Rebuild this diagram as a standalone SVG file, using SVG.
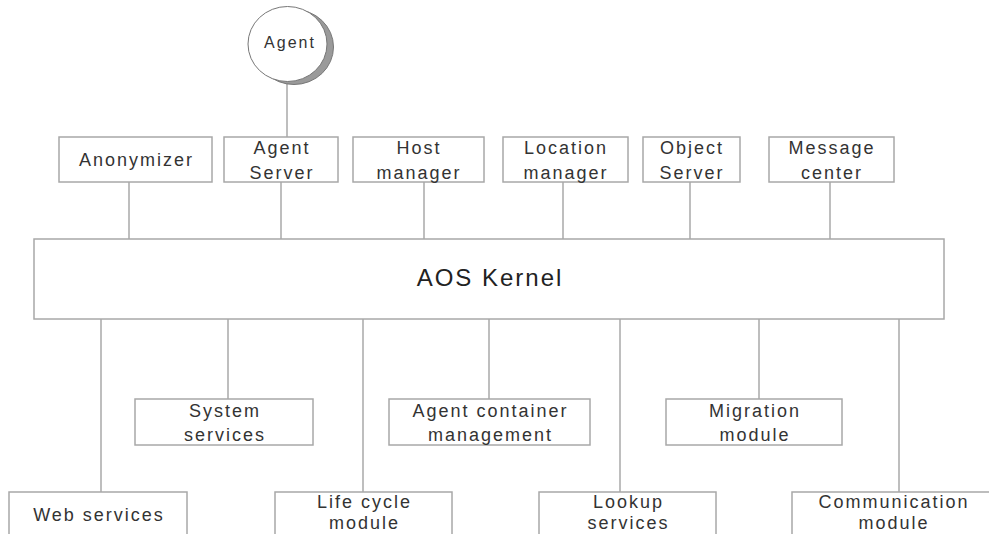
<svg xmlns="http://www.w3.org/2000/svg" width="989" height="534" viewBox="0 0 989 534">
<style>
.box{fill:#fff;stroke:#a8a8a8;stroke-width:1.5}
.ln{stroke:#a8a8a8;stroke-width:1.5;fill:none}
.t{font-family:"Liberation Sans",Arial,sans-serif;font-size:18px;letter-spacing:2px;fill:#333;text-anchor:middle}
.k{font-size:24px;fill:#222}
.a{font-size:16px}
</style>
<rect width="989" height="534" fill="#fff"/>
<g id="connectors">
<line class="ln" x1="287" y1="82" x2="287" y2="137"/>
<line class="ln" x1="129" y1="182" x2="129" y2="239"/>
<line class="ln" x1="281" y1="182" x2="281" y2="239"/>
<line class="ln" x1="424" y1="182" x2="424" y2="239"/>
<line class="ln" x1="563" y1="182" x2="563" y2="239"/>
<line class="ln" x1="690" y1="182" x2="690" y2="239"/>
<line class="ln" x1="830" y1="182" x2="830" y2="239"/>
<line class="ln" x1="101" y1="319" x2="101" y2="492"/>
<line class="ln" x1="228" y1="319" x2="228" y2="399"/>
<line class="ln" x1="363" y1="319" x2="363" y2="492"/>
<line class="ln" x1="489" y1="319" x2="489" y2="399"/>
<line class="ln" x1="620" y1="319" x2="620" y2="492"/>
<line class="ln" x1="759" y1="319" x2="759" y2="399"/>
<line class="ln" x1="899" y1="319" x2="899" y2="492"/>
</g>
<g id="agent">
<ellipse cx="294" cy="47" rx="39.5" ry="37.5" fill="#9a9a9a" stroke="#777" stroke-width="1"/>
<ellipse cx="287.5" cy="44" rx="39.5" ry="37.5" fill="#fff" stroke="#777" stroke-width="1"/>
<text class="t a" x="290" y="48">Agent</text>
</g>
<g id="anonymizer">
<rect class="box" x="59" y="137" width="153" height="45"/>
<text class="t" x="136.5" y="166">Anonymizer</text>
</g>
<g id="agent-server">
<rect class="box" x="224" y="137" width="114" height="45"/>
<text class="t" x="282" y="154">Agent</text>
<text class="t" x="282" y="179">Server</text>
</g>
<g id="host-manager">
<rect class="box" x="353" y="137" width="131" height="45"/>
<text class="t" x="419" y="154">Host</text>
<text class="t" x="419" y="179">manager</text>
</g>
<g id="location-manager">
<rect class="box" x="503" y="137" width="125" height="45"/>
<text class="t" x="566" y="154">Location</text>
<text class="t" x="566" y="179">manager</text>
</g>
<g id="object-server">
<rect class="box" x="643" y="137" width="97" height="45"/>
<text class="t" x="692" y="154">Object</text>
<text class="t" x="692" y="179">Server</text>
</g>
<g id="message-center">
<rect class="box" x="769" y="137" width="125" height="45"/>
<text class="t" x="832" y="154">Message</text>
<text class="t" x="832" y="179">center</text>
</g>
<g id="aos-kernel">
<rect class="box" x="34" y="239" width="910" height="80"/>
<text class="t k" x="490" y="286">AOS Kernel</text>
</g>
<g id="system-services">
<rect class="box" x="135" y="399" width="178" height="46"/>
<text class="t" x="225" y="417">System</text>
<text class="t" x="225" y="441">services</text>
</g>
<g id="agent-container-management">
<rect class="box" x="389" y="399" width="201" height="46"/>
<text class="t" x="490.5" y="417">Agent container</text>
<text class="t" x="490.5" y="441">management</text>
</g>
<g id="migration-module">
<rect class="box" x="666" y="399" width="176" height="46"/>
<text class="t" x="755" y="417">Migration</text>
<text class="t" x="755" y="441">module</text>
</g>
<g id="web-services">
<rect class="box" x="9" y="492" width="178" height="60"/>
<text class="t" x="99" y="521">Web services</text>
</g>
<g id="life-cycle-module">
<rect class="box" x="275" y="492" width="177" height="60"/>
<text class="t" x="364.5" y="508">Life cycle</text>
<text class="t" x="364.5" y="529">module</text>
</g>
<g id="lookup-services">
<rect class="box" x="539" y="492" width="177" height="60"/>
<text class="t" x="628.5" y="508">Lookup</text>
<text class="t" x="628.5" y="529">services</text>
</g>
<g id="communication-module">
<rect class="box" x="792" y="492" width="205" height="60"/>
<text class="t" x="894" y="508">Communication</text>
<text class="t" x="894" y="529">module</text>
</g>
</svg>
